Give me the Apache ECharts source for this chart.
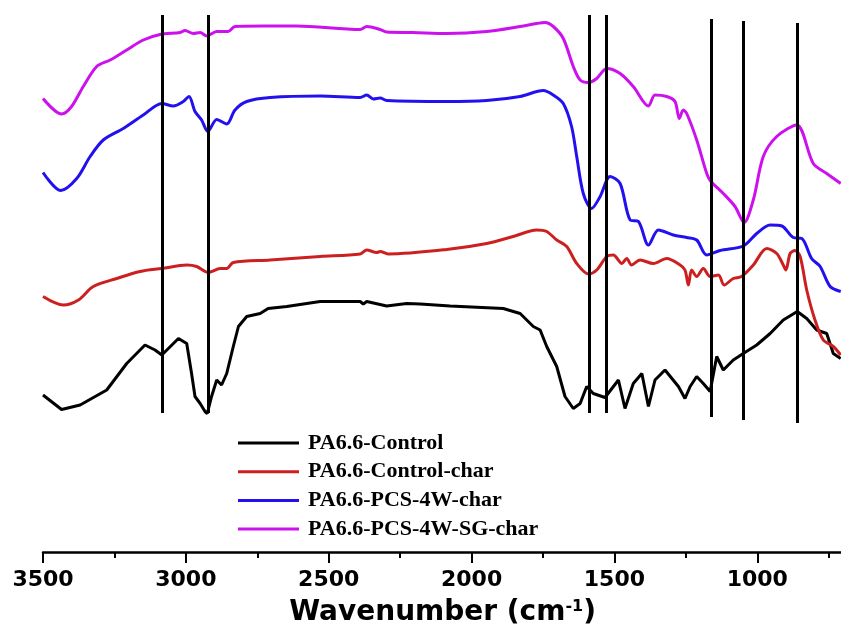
<!DOCTYPE html>
<html>
<head>
<meta charset="utf-8">
<script src="https://cdn.jsdelivr.net/npm/echarts@6/dist/echarts.min.js"></script>
<style>
  html, body { margin: 0; padding: 0; background: #fff; }
  #chart { width: 841px; height: 630px; }
</style>
</head>
<body>
<div id="chart"></div>
<script>
// FTIR spectra (offset transmittance, arbitrary units) vs wavenumber in cm-1
const seriesNames = ['PA6.6-Control', 'PA6.6-Control-char', 'PA6.6-PCS-4W-char', 'PA6.6-PCS-4W-SG-char'];
const seriesColors = ['#000000', '#cc2020', '#2211ee', '#cc11ee'];

const controlWn = [3500, 3435, 3370, 3277, 3207, 3143, 3108, 3084, 3026, 2997, 2980, 2968, 2950, 2933, 2925, 2910, 2892, 2875, 2857, 2834, 2816, 2787, 2740, 2712, 2647, 2530, 2390, 2379, 2367, 2297, 2227, 2180, 2075, 1889, 1830, 1784, 1760, 1737, 1702, 1673, 1644, 1620, 1597, 1574, 1533, 1486, 1463, 1434, 1404, 1381, 1358, 1323, 1276, 1253, 1235, 1212, 1189, 1165, 1142, 1119, 1084, 1049, 1002, 955, 909, 860, 827, 792, 757, 734, 708];
const controlT = [31.4, 28.5, 29.4, 32.4, 37.7, 41.4, 40.4, 39.4, 42.7, 41.7, 35.7, 31.1, 29.7, 28.1, 27.7, 31.1, 34.4, 33.4, 35.7, 41.1, 45.1, 47.1, 47.7, 48.7, 49.1, 50.1, 50.1, 49.6, 50.1, 49.2, 49.7, 49.6, 49.2, 48.7, 47.7, 45.1, 44.4, 41.1, 37.1, 31.1, 28.7, 29.7, 33.1, 31.7, 30.9, 34.4, 28.7, 33.7, 35.7, 29.1, 34.4, 36.4, 33.1, 30.7, 33.1, 35.1, 33.7, 32.1, 39.1, 36.4, 38.4, 39.7, 41.4, 43.7, 46.4, 48.1, 46.7, 44.4, 43.7, 39.7, 38.7];

const controlCharWn = [3500, 3429, 3376, 3324, 3242, 3160, 3084, 2997, 2962, 2922, 2880, 2857, 2834, 2705, 2530, 2390, 2367, 2332, 2320, 2292, 2087, 1947, 1854, 1772, 1737, 1702, 1667, 1632, 1591, 1562, 1527, 1504, 1474, 1457, 1440, 1410, 1364, 1317, 1270, 1253, 1241, 1230, 1212, 1189, 1165, 1136, 1116, 1084, 1055, 1014, 967, 932, 909, 900, 885, 868, 850, 827, 798, 769, 734, 708];
const controlCharT = [51.1, 49.4, 50.4, 53.1, 54.7, 56.1, 56.7, 57.4, 57.1, 55.9, 56.7, 56.7, 57.9, 58.4, 59.1, 59.6, 60.4, 59.9, 60.1, 59.6, 60.5, 61.7, 63.1, 64.4, 64.1, 62.4, 61.1, 57.7, 55.6, 56.4, 59.1, 59.4, 57.7, 58.7, 57.4, 58.4, 57.7, 58.7, 57.4, 56.4, 53.4, 56.4, 55.1, 56.7, 55.1, 55.4, 53.4, 54.7, 55.1, 57.4, 60.7, 59.7, 57.4, 56.4, 59.7, 60.3, 59.1, 52.4, 46.4, 42.4, 41.1, 39.4];

const pcsWn = [3500, 3438, 3382, 3335, 3289, 3219, 3149, 3084, 3044, 3009, 2989, 2968, 2945, 2923, 2892, 2857, 2828, 2787, 2705, 2530, 2390, 2367, 2344, 2320, 2297, 2087, 1947, 1830, 1749, 1714, 1679, 1650, 1632, 1609, 1580, 1550, 1515, 1480, 1445, 1416, 1381, 1346, 1294, 1247, 1212, 1177, 1130, 1049, 1002, 955, 914, 874, 844, 810, 780, 745, 708];
const pcsT = [75.9, 72.3, 74.7, 79.1, 82.4, 84.7, 87.4, 89.7, 89.2, 90.1, 91.1, 88.1, 86.4, 84.1, 86.5, 85.6, 88.4, 90.1, 90.9, 91.2, 90.9, 91.4, 90.6, 90.8, 90.3, 90.1, 90.3, 91.1, 92.3, 91.4, 89.7, 85.1, 79.1, 71.7, 68.7, 71.1, 75.1, 73.7, 66.4, 66.1, 61.4, 64.4, 63.4, 62.9, 62.4, 59.4, 60.3, 61.2, 63.7, 65.4, 65.2, 62.9, 62.7, 58.7, 57.1, 53.1, 52.1];

const pcsSgWn = [3500, 3435, 3400, 3359, 3312, 3265, 3207, 3149, 3090, 3020, 3003, 2974, 2950, 2927, 2892, 2852, 2828, 2730, 2612, 2390, 2367, 2320, 2297, 2205, 2087, 1947, 1830, 1772, 1743, 1714, 1679, 1644, 1620, 1591, 1562, 1527, 1480, 1434, 1381, 1358, 1317, 1288, 1273, 1259, 1247, 1212, 1177, 1162, 1119, 1078, 1046, 1014, 979, 932, 862, 804, 757, 708];
const pcsSgT = [90.7, 87.6, 89.1, 93.1, 97.1, 98.4, 100.4, 102.4, 103.5, 103.9, 104.3, 103.7, 103.9, 103.2, 104.1, 104.1, 105.1, 105.2, 105.2, 104.5, 105.1, 104.5, 104.0, 103.9, 103.7, 104.1, 105.1, 105.7, 105.9, 105.1, 102.7, 97.1, 94.4, 93.9, 94.7, 96.7, 95.7, 93.1, 89.2, 91.4, 91.1, 90.1, 86.7, 88.4, 87.7, 82.4, 75.7, 74.1, 71.7, 69.1, 65.9, 70.4, 79.1, 83.1, 85.4, 77.7, 75.7, 73.7];

// Marked absorption bands (cm-1) and the vertical extent of each marker line
const bandWn = [3083, 2922, 1588, 1527, 1162, 1048, 860];
const bandTop = [107.4, 107.4, 107.4, 107.4, 106.6, 106.2, 105.8];
const bandBottom = [27.8, 27.8, 27.8, 27.8, 27.0, 26.4, 25.8];

// Axis ticks
const tickValues = [3500, 3000, 2500, 2000, 1500, 1000];

const zip = (xs, ys) => xs.map((x, i) => [x, ys[i]]);
const spectra = [
  zip(controlWn, controlT),
  zip(controlCharWn, controlCharT),
  zip(pcsWn, pcsT),
  zip(pcsSgWn, pcsSgT)
];

const chart = echarts.init(document.getElementById('chart'), null, { renderer: 'canvas' });

const lineSeries = spectra.map((data, i) => ({
  name: seriesNames[i],
  type: 'line',
  data: data,
  showSymbol: false,
  smooth: i === 0 ? false : 0.3,
  lineStyle: { color: seriesColors[i], width: 3 },
  itemStyle: { color: seriesColors[i] },
  z: 2
}));

const bandSeries = {
  name: 'bands',
  type: 'lines',
  coordinateSystem: 'cartesian2d',
  silent: true,
  z: 5,
  lineStyle: { color: '#000', width: 3, opacity: 1 },
  data: bandWn.map((w, i) => ({ coords: [[w, bandBottom[i]], [w, bandTop[i]]] }))
};

chart.setOption({
  backgroundColor: '#ffffff',
  animation: false,
  // the axis runs on past the right edge down to 500 cm-1, so the visible span ends near 700
  grid: { left: 43, right: -59.14, top: 0, bottom: 78, outerBoundsMode: 'none', containLabel: false },
  legend: {
    data: seriesNames,
    orient: 'vertical',
    left: 233,
    top: 427,
    icon: 'rect',
    itemWidth: 61,
    itemHeight: 3,
    itemGap: 6.7,
    textStyle: {
      fontFamily: 'Liberation Serif',
      fontWeight: 'bold',
      fontSize: 22,
      lineHeight: 22,
      color: '#000',
      padding: [0, 0, 0, 4]
    }
  },
  xAxis: {
    type: 'value',
    inverse: true,
    min: 500,
    max: 3500,
    interval: 500,
    name: '{a|Wavenumber (cm}{s|-1}{a|)}',
    nameLocation: 'middle',
    nameGap: 47,
    nameTextStyle: {
      padding: [0, 58, 0, 0],
      rich: {
        a: { fontFamily: 'DejaVu Sans', fontWeight: 'bold', fontSize: 28, color: '#000' },
        s: { fontFamily: 'DejaVu Sans', fontWeight: 'bold', fontSize: 16, color: '#000', verticalAlign: 'top' }
      }
    },
    axisLine: { show: true, onZero: false, lineStyle: { color: '#000', width: 2.5 } },
    axisTick: { show: true, length: 11, lineStyle: { color: '#000', width: 2 } },
    minorTick: { show: true, splitNumber: 2, length: 6, lineStyle: { color: '#000', width: 2 } },
    splitLine: { show: false },
    axisLabel: {
      margin: 17,
      fontFamily: 'DejaVu Sans',
      fontWeight: 'bold',
      fontSize: 22,
      color: '#000',
      showMinLabel: true,
      showMaxLabel: true,
      formatter: v => (tickValues.indexOf(v) >= 0 ? String(v) : '')
    }
  },
  yAxis: {
    type: 'value',
    min: 0,
    max: 110.4,
    show: false,
    splitLine: { show: false }
  },
  series: lineSeries.concat([bandSeries])
});
</script>
</body>
</html>
